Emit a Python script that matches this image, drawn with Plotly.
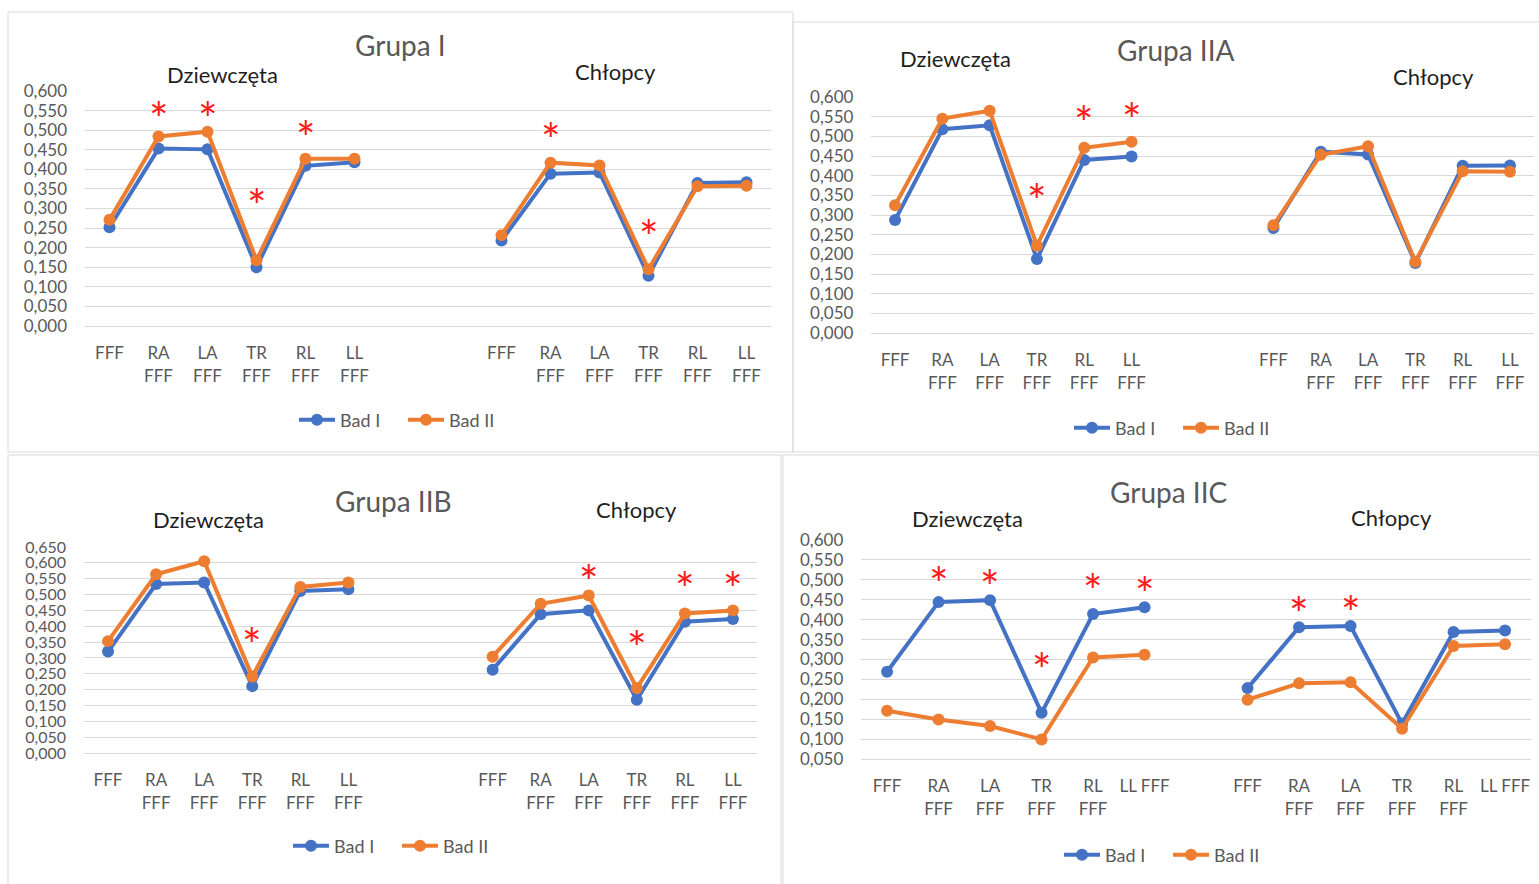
import plotly.graph_objects as go

W, H = 1539, 884

# ---- category labels -------------------------------------------------------
labels = ["FFF", "RA<br>FFF", "LA<br>FFF", "TR<br>FFF", "RL<br>FFF", "LL<br>FFF"]
labels_iic = ["FFF", "RA<br>FFF", "LA<br>FFF", "TR<br>FFF", "RL<br>FFF", "LL FFF"]
series_names = ["Bad I", "Bad II"]

# ---- mean values: Grupa I ---------------------------------------------------
g1_girls_bad1 = [0.252, 0.453, 0.451, 0.150, 0.409, 0.418]
g1_girls_bad2 = [0.271, 0.484, 0.496, 0.168, 0.427, 0.427]
g1_boys_bad1 = [0.218, 0.389, 0.392, 0.128, 0.365, 0.367]
g1_boys_bad2 = [0.232, 0.417, 0.410, 0.145, 0.357, 0.358]

# ---- mean values: Grupa IIA -------------------------------------------------
g2a_girls_bad1 = [0.287, 0.518, 0.528, 0.188, 0.440, 0.449]
g2a_girls_bad2 = [0.325, 0.545, 0.565, 0.222, 0.471, 0.486]
g2a_boys_bad1 = [0.267, 0.461, 0.454, 0.178, 0.425, 0.426]
g2a_boys_bad2 = [0.274, 0.453, 0.475, 0.181, 0.411, 0.410]

# ---- mean values: Grupa IIB -------------------------------------------------
g2b_girls_bad1 = [0.320, 0.533, 0.538, 0.211, 0.511, 0.517]
g2b_girls_bad2 = [0.353, 0.564, 0.605, 0.241, 0.524, 0.538]
g2b_boys_bad1 = [0.263, 0.438, 0.450, 0.168, 0.414, 0.423]
g2b_boys_bad2 = [0.304, 0.471, 0.497, 0.205, 0.440, 0.450]

# ---- mean values: Grupa IIC -------------------------------------------------
g2c_girls_bad1 = [0.269, 0.444, 0.449, 0.166, 0.414, 0.431]
g2c_girls_bad2 = [0.171, 0.149, 0.133, 0.099, 0.305, 0.312]
g2c_boys_bad1 = [0.228, 0.381, 0.384, 0.139, 0.369, 0.373]
g2c_boys_bad2 = [0.199, 0.240, 0.243, 0.126, 0.334, 0.338]

# ---- significant differences (category index within each sex) --------------
g1_girls_sig = [1, 2, 3, 4]
g1_boys_sig = [1, 3]
g2a_girls_sig = [3, 4, 5]
g2a_boys_sig = []
g2b_girls_sig = [2, 3]
g2b_boys_sig = [2, 3, 4, 5]
g2c_girls_sig = [1, 2, 3, 4, 5]
g2c_boys_sig = [1, 2]

BLUE = "#4472C4"
ORANGE = "#ED7D31"
RED = "#FF1A1A"
GRID = "#D9D9D9"
GREY_TXT = "#595959"
FONT = "Lato, 'Open Sans', sans-serif"


def px_x(v):
    return v / W


def px_y(v):
    return 1 - v / H


# panel layout: plot-area pixel box, y range, gap between the two sexes,
# heading positions, legend centre, y tick font size and star heights (data units)
panels = [
    dict(title="Grupa I", girls=(g1_girls_bad1, g1_girls_bad2), boys=(g1_boys_bad1, g1_boys_bad2),
         sig=(g1_girls_sig, g1_boys_sig), star_y=([0.557, 0.557, 0.336, 0.510], [0.505, 0.256]),
         labels=labels, gap=2, box=(85, 771, 91, 326), yr=(0.0, 0.6), yfs=17,
         t=(400, 45), d=(222, 74), c=(615, 71), leg=(403, 420)),
    dict(title="Grupa IIA", girls=(g2a_girls_bad1, g2a_girls_bad2), boys=(g2a_boys_bad1, g2a_boys_bad2),
         sig=(g2a_girls_sig, g2a_boys_sig), star_y=([0.365, 0.564, 0.572], []),
         labels=labels, gap=2, box=(871.4, 1533.6, 97, 333), yr=(0.0, 0.6), yfs=17,
         t=(1175, 50), d=(955, 59), c=(1433, 76), leg=(1178, 428)),
    dict(title="Grupa IIB", girls=(g2b_girls_bad1, g2b_girls_bad2), boys=(g2b_boys_bad1, g2b_boys_bad2),
         sig=(g2b_girls_sig, g2b_boys_sig), star_y=([0.687, 0.378], [0.576, 0.368, 0.555, 0.555]),
         labels=labels, gap=2, box=(84, 757, 547, 753), yr=(0.0, 0.65), yfs=16,
         t=(393, 501), d=(208, 519), c=(636, 510), leg=(397, 846)),
    dict(title="Grupa IIC", girls=(g2c_girls_bad1, g2c_girls_bad2), boys=(g2c_boys_bad1, g2c_boys_bad2),
         sig=(g2c_girls_sig, g2c_boys_sig), star_y=([0.519, 0.512, 0.302, 0.502, 0.494], [0.444, 0.446]),
         labels=labels_iic, gap=1, box=(861.3, 1530.8, 540, 759), yr=(0.05, 0.6), yfs=17,
         t=(1168, 492), d=(967, 518), c=(1391, 517), leg=(1168, 855)),
]

fig = go.Figure()
annotations = []
layout = {}

for i, p in enumerate(panels, start=1):
    sfx = "" if i == 1 else str(i)
    xa, ya = "x" + sfx, "y" + sfx
    leg = "legend" + sfx
    n_girls = len(p["girls"][0])
    boys_start = n_girls + p["gap"]
    n_cat = boys_start + len(p["boys"][0])
    xs = list(range(n_cat))

    for k, (name, col) in enumerate(zip(series_names, [BLUE, ORANGE])):
        ys = list(p["girls"][k]) + [None] * p["gap"] + list(p["boys"][k])
        fig.add_trace(go.Scatter(
            x=xs, y=ys, name=name, mode="lines+markers",
            line=dict(color=col, width=4), marker=dict(color=col, size=12),
            xaxis=xa, yaxis=ya, legend=leg, connectgaps=False,
            hoverinfo="skip",
        ))

    tickvals = list(range(n_girls)) + list(range(boys_start, n_cat))
    ticktext = p["labels"] + p["labels"]
    x0, x1, yt, yb = p["box"]
    layout["xaxis" + sfx] = dict(
        domain=[px_x(x0), px_x(x1)], range=[-0.5, n_cat - 0.5], anchor=ya,
        tickmode="array", tickvals=tickvals, ticktext=ticktext,
        showgrid=False, zeroline=False, showline=True, linecolor=GRID, linewidth=1,
        ticks="", tickfont=dict(family=FONT, size=17, color=GREY_TXT),
        ticklabelstandoff=12, fixedrange=True, automargin=False,
    )
    layout["yaxis" + sfx] = dict(
        domain=[px_y(yb), px_y(yt)], range=list(p["yr"]), anchor=xa,
        dtick=0.05, tick0=0, tickformat=".3f", showgrid=True, gridcolor=GRID, gridwidth=1,
        zeroline=False, showline=False, ticks="",
        tickfont=dict(family=FONT, size=p["yfs"], color=GREY_TXT),
        ticklabelstandoff=17, fixedrange=True, automargin=False,
    )
    layout[leg] = dict(
        orientation="h", x=px_x(p["leg"][0]), y=px_y(p["leg"][1]),
        xanchor="center", yanchor="middle", bgcolor="rgba(0,0,0,0)",
        font=dict(family=FONT, size=18, color=GREY_TXT), itemclick=False, itemdoubleclick=False,
        itemwidth=36, entrywidth=58,
    )

    # headings
    for text, pos, size, col in [(p["title"], p["t"], 28, GREY_TXT),
                                 ("Dziewczęta", p["d"], 22, "#1F1F1F"),
                                 ("Chłopcy", p["c"], 22, "#1F1F1F")]:
        annotations.append(dict(
            text=text, x=px_x(pos[0]), y=px_y(pos[1]), xref="paper", yref="paper",
            xanchor="center", yanchor="middle", showarrow=False,
            font=dict(family=FONT, size=size, color=col),
        ))

    # significance stars
    for idxs, heights, offset in [(p["sig"][0], p["star_y"][0], 0),
                                  (p["sig"][1], p["star_y"][1], boys_start)]:
        for j, yv in zip(idxs, heights):
            annotations.append(dict(
                text="*", x=j + offset, y=yv, xref=xa, yref=ya,
                xanchor="center", yanchor="middle", showarrow=False, yshift=-11,
                font=dict(family=FONT, size=46, color=RED),
            ))

# chart frames
frames = [(8, 12, 793, 452), (793, 22, 1541, 452), (8, 455, 781, 886), (783, 455, 1541, 886)]
shapes = [dict(type="rect", xref="paper", yref="paper",
               x0=px_x(a), x1=px_x(c), y0=px_y(d), y1=px_y(b),
               line=dict(color=GRID, width=1), fillcolor="rgba(0,0,0,0)", layer="below")
          for a, b, c, d in frames]

fig.update_layout(
    width=W, height=H, margin=dict(l=0, r=0, t=0, b=0, autoexpand=False),
    paper_bgcolor="white", plot_bgcolor="white",
    separators=",.", showlegend=True,
    annotations=annotations, shapes=shapes,
    font=dict(family=FONT, color=GREY_TXT),
    **layout,
)

fig.write_html("out.html")
